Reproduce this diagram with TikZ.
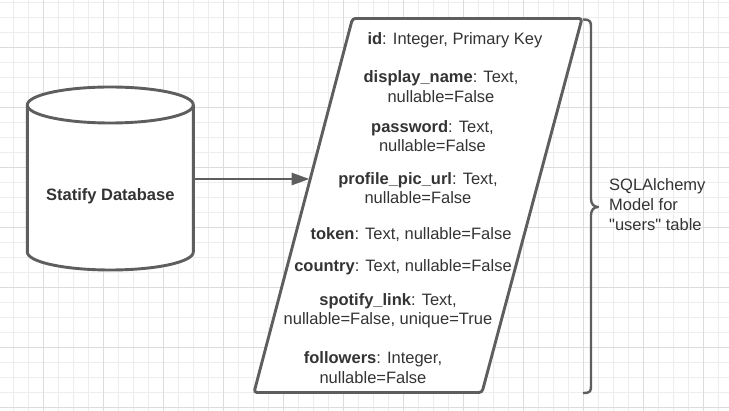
\documentclass[tikz,border=0pt]{standalone}
\usepackage{fontspec}
\setmainfont{Liberation Sans}
\newfontfamily\lblfont{Liberation Sans}[Ligatures=TeXOff]
\usetikzlibrary{arrows.meta}
\definecolor{edge}{HTML}{5E5E5E}
\definecolor{ink}{HTML}{333333}
\definecolor{gridminor}{HTML}{EDEDED}
\definecolor{gridmajor}{HTML}{DCDCDC}
\tikzset{
  shapeline/.style={draw=edge, line width=2.9pt, fill=white},
  txt/.style={text=ink, font=\fontsize{16.5}{19.5}\selectfont, align=center, inner sep=0pt},
  lbl/.style={text=ink, font=\lblfont\fontsize{16.5}{20}\selectfont, align=left, inner sep=0pt},
}
\begin{document}
\begin{tikzpicture}[x=1pt, y=-1pt]
\useasboundingbox (0,0) rectangle (729,411);
\fill[white] (0,0) rectangle (729,411);
% grid
\foreach \k in {0,...,49} {
  \pgfmathsetmacro{\gx}{-1.7+15*\k}
  \draw[gridminor, line width=1pt] (\gx,0) -- (\gx,411);
}
\foreach \k in {0,...,27} {
  \pgfmathsetmacro{\gy}{3+15*\k}
  \draw[gridminor, line width=1pt] (0,\gy) -- (729,\gy);
}
\foreach \k in {0,...,11} {
  \pgfmathsetmacro{\gx}{43.3+60*\k}
  \draw[gridmajor, line width=1pt] (\gx,0) -- (\gx,411);
}
\foreach \k in {0,...,6} {
  \pgfmathsetmacro{\gy}{48+60*\k}
  \draw[gridmajor, line width=1pt] (0,\gy) -- (729,\gy);
}
% cylinder
\path[shapeline, line join=round] (27.3,105) -- (27.3,252) arc[start angle=180, end angle=0, x radius=83, y radius=18] -- (193.3,105) arc[start angle=0, end angle=-180, x radius=83, y radius=18] -- cycle;
\draw[edge, line width=2.9pt] (27.3,105) arc[start angle=180, end angle=0, x radius=83, y radius=18];
\node[txt, font=\fontsize{16.5}{19.5}\selectfont\bfseries] (dblabel) at (110.3,196) {Statify Database};
\node[inner sep=0pt, minimum width=166pt, minimum height=40pt] (db) at (110.3,179) {};
% parallelogram
\coordinate (tl) at (352.5,18.5);
\coordinate (tr) at (582,18.5);
\coordinate (br) at (482,392.5);
\coordinate (bl) at (254,392.5);
\path[shapeline, rounded corners=3pt] (tl) -- (tr) -- (br) -- (bl) -- cycle;
\coordinate (pin) at (309.5,179);
% arrow
\draw[edge, line width=2.9pt, -{Triangle[length=18pt, width=12pt]}] (db.east) -- (pin);
% texts
\node[txt] (t1) at (455,40) {\textbf{id}: Integer, Primary Key};
\node[txt] (t2) at (441,86.5) {\textbf{display\_name}: Text,\\nullable=False};
\node[txt] (t3) at (432.5,136) {\textbf{password}: Text,\\nullable=False};
\node[txt] (t4) at (418,188) {\textbf{profile\_pic\_url}: Text,\\nullable=False};
\node[txt] (t5) at (411,235) {\textbf{token}: Text, nullable=False};
\node[txt] (t6) at (403,267) {\textbf{country}: Text, nullable=False};
\node[txt] (t7) at (388,310.5) {\textbf{spotify\_link}: Text,\\nullable=False, unique=True};
\node[txt] (t8) at (373,367.5) {\textbf{followers}: Integer,\\nullable=False};
% brace
\draw[edge, line width=2.4pt, line join=round] (583,19.5) .. controls (591,19.5) and (591,22) .. (591,28) -- (591,199) .. controls (591,204) and (594,207) .. (598,207) .. controls (594,207) and (591,210) .. (591,215) -- (591,385) .. controls (591,391) and (591,393) .. (583,393);
\node[lbl, anchor=west] (model) at (609,205) {SQLAlchemy\\Model for\\"users" table};
\end{tikzpicture}
\end{document}
